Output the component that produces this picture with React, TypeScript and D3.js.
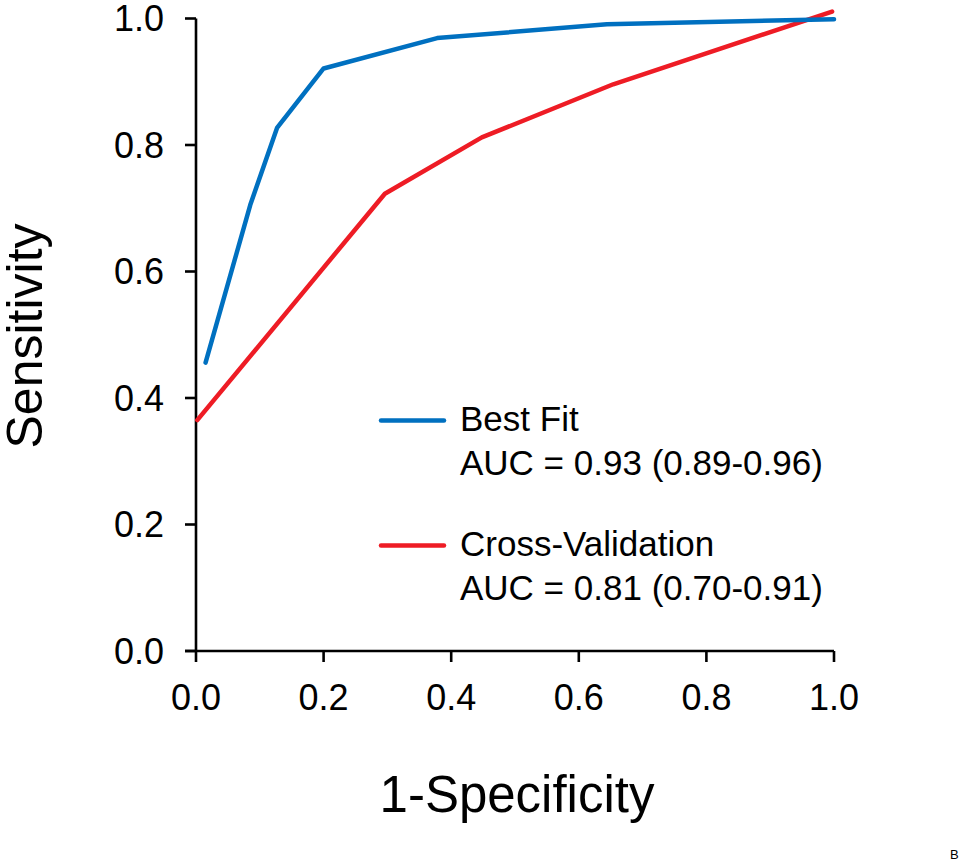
import React from "react";
import * as d3 from "d3";

const bestFitX = [0.015, 0.085, 0.127, 0.2, 0.378, 0.644, 1.0];
const bestFitY = [0.456, 0.705, 0.827, 0.921, 0.969, 0.991, 0.999];
const crossValX = [0.002, 0.296, 0.448, 0.654, 0.997];
const crossValY = [0.365, 0.723, 0.812, 0.896, 1.011];
const xTicks = [0, 0.2, 0.4, 0.6, 0.8, 1.0];
const yTicks = [0, 0.2, 0.4, 0.6, 0.8, 1.0];
const legendLabels = ["Best Fit", "Cross-Validation"];
const legendAUC = ["AUC = 0.93 (0.89-0.96)", "AUC = 0.81 (0.70-0.91)"];

const W = 962;
const H = 862;
const FONT = "Liberation Sans, Arial, sans-serif";
const BLUE = "#0070C0";
const RED = "#EE1C25";

export default function App() {
  const x = d3.scaleLinear().domain([0, 1]).range([196, 834]);
  const y = d3.scaleLinear().domain([0, 1]).range([651, 18.5]);
  const line = d3
    .line<[number, number]>()
    .x((d) => x(d[0]))
    .y((d) => y(d[1]));
  const blue = bestFitX.map((v, i) => [v, bestFitY[i]] as [number, number]);
  const red = crossValX.map((v, i) => [v, crossValY[i]] as [number, number]);
  const colors = [BLUE, RED];
  const legendY = [420.5, 545.5];

  return (
    <svg
      width={W}
      height={H}
      style={{ position: "absolute", left: 0, top: 0, background: "#fff" }}
      fontFamily={FONT}
    >
      {/* axes */}
      <line x1={x(0)} x2={x(0)} y1={y(1)} y2={y(0)} stroke="#000" strokeWidth={2.6} />
      <line x1={x(0) - 11} x2={x(1)} y1={y(0)} y2={y(0)} stroke="#000" strokeWidth={2.6} />
      {yTicks.map((t) => (
        <g key={"y" + t}>
          <line x1={x(0) - 11} x2={x(0)} y1={y(t)} y2={y(t)} stroke="#000" strokeWidth={2.6} />
          <text x={164} y={y(t)} dy="0.36em" textAnchor="end" fontSize={36} fill="#000">
            {t.toFixed(1)}
          </text>
        </g>
      ))}
      {xTicks.map((t) => (
        <g key={"x" + t}>
          <line x1={x(t)} x2={x(t)} y1={y(0)} y2={y(0) + 11} stroke="#000" strokeWidth={2.6} />
          <text x={x(t)} y={710} textAnchor="middle" fontSize={36} fill="#000">
            {t.toFixed(1)}
          </text>
        </g>
      ))}
      {/* axis titles */}
      <text
        transform={`translate(42,336) rotate(-90)`}
        textAnchor="middle"
        fontSize={50}
        fill="#000"
      >
        Sensitivity
      </text>
      <text x={517} y={812} textAnchor="middle" fontSize={51} fill="#000">
        1-Specificity
      </text>
      {/* curves */}
      <path d={line(red) || ""} fill="none" stroke={RED} strokeWidth={4.5} strokeLinecap="round" strokeLinejoin="round" />
      <path d={line(blue) || ""} fill="none" stroke={BLUE} strokeWidth={4.5} strokeLinecap="round" strokeLinejoin="round" />
      {/* legend */}
      {legendLabels.map((lab, i) => (
        <g key={lab}>
          <line x1={381} x2={444} y1={legendY[i]} y2={legendY[i]} stroke={colors[i]} strokeWidth={4.5} strokeLinecap="round" />
          <text x={460} y={legendY[i] + 10} fontSize={35} fill="#000">
            {lab}
          </text>
          <text x={460} y={legendY[i] + 54} fontSize={35} fill="#000">
            {legendAUC[i]}
          </text>
        </g>
      ))}
      <text x={950} y={859} fontSize={13} fill="#000">
        B
      </text>
    </svg>
  );
}
